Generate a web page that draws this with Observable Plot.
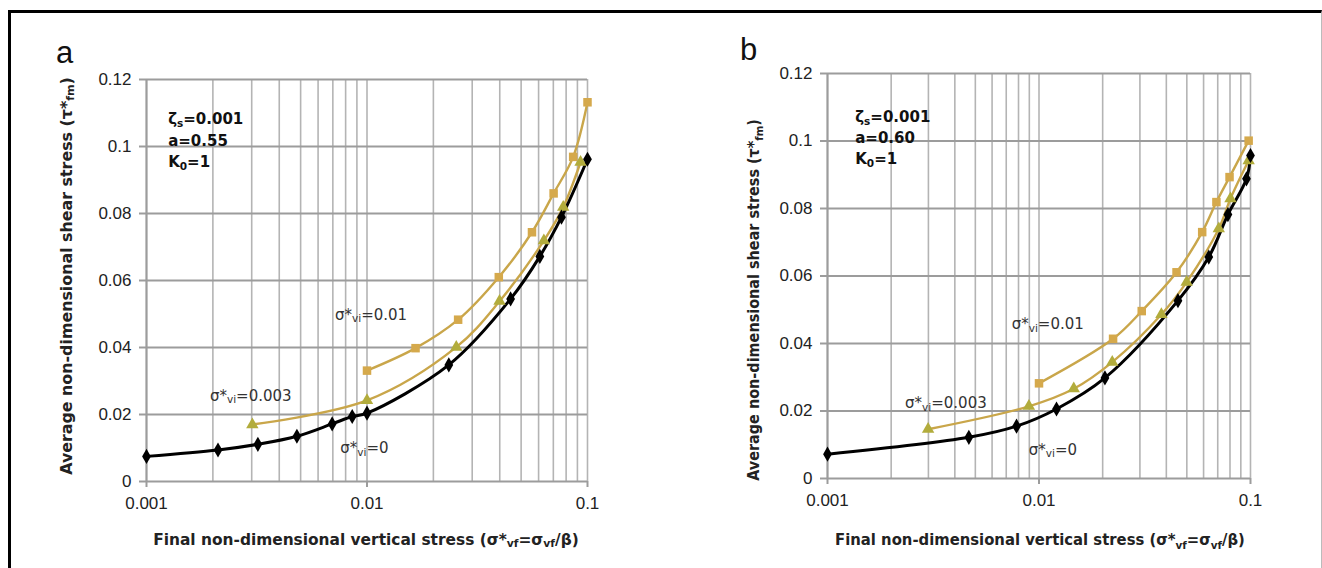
<!DOCTYPE html>
<html><head><meta charset="utf-8">
<script src="https://cdn.jsdelivr.net/npm/d3@7"></script>
<script src="https://cdn.jsdelivr.net/npm/@observablehq/plot@0.6"></script>
<style>
body{margin:0;background:#fff;}
#wrap{position:relative;width:1322px;height:568px;overflow:hidden;font-family:"Liberation Sans",Arial,sans-serif;background:#fff;}
#frame{position:absolute;left:8px;top:10px;width:1310px;height:600px;border-top:3px solid #000;border-left:3px solid #000;border-right:1px solid #bbb;}
.panel{position:absolute;top:0;}
.letter{position:absolute;font-size:31px;color:#111;line-height:34px;}
</style></head>
<body><div id="wrap"><div id="frame"></div>
<div id="pa" class="panel" style="left:0"></div>
<div id="pb" class="panel" style="left:661px"></div>
<div class="letter" style="left:56px;top:36px">a</div>
<div class="letter" style="left:740px;top:33px">b</div>
</div>
<script>
// ---- axis ticks ----
const xTicks = [0.001, 0.01, 0.1];
const xTickLabels = ["0.001", "0.01", "0.1"];
const xGrid = [0.001, 0.002, 0.003, 0.004, 0.005, 0.006, 0.007, 0.008, 0.009,
               0.01, 0.02, 0.03, 0.04, 0.05, 0.06, 0.07, 0.08, 0.09, 0.1];
const yTicks = [0, 0.02, 0.04, 0.06, 0.08, 0.1, 0.12];
const yTickLabels = ["0", "0.02", "0.04", "0.06", "0.08", "0.1", "0.12"];

// ---- panel a data ----
const aBlackX = [0.001, 0.00211, 0.0032, 0.00481, 0.00695, 0.00857, 0.01, 0.0235, 0.0448, 0.0608, 0.0762, 0.1];
const aBlackY = [0.0075, 0.0094, 0.0111, 0.0135, 0.0172, 0.0194, 0.0204, 0.0348, 0.0545, 0.0672, 0.0789, 0.0962];
const aTriX = [0.00302, 0.01, 0.0254, 0.0399, 0.0634, 0.0776, 0.093];
const aTriY = [0.0170, 0.0242, 0.0401, 0.0538, 0.0719, 0.0819, 0.0953];
const aSqX = [0.01, 0.0166, 0.0259, 0.0396, 0.056, 0.0702, 0.0861, 0.1];
const aSqY = [0.0331, 0.0398, 0.0483, 0.0610, 0.0744, 0.0860, 0.0969, 0.1132];

// ---- panel b data ----
const bBlackX = [0.001, 0.00466, 0.00783, 0.0121, 0.0205, 0.0454, 0.0635, 0.0782, 0.0957, 0.1];
const bBlackY = [0.0072, 0.0122, 0.0155, 0.0206, 0.0298, 0.0527, 0.0656, 0.0782, 0.0888, 0.0957];
const bTriX = [0.00299, 0.00896, 0.0146, 0.0222, 0.0379, 0.0499, 0.0708, 0.0804, 0.098];
const bTriY = [0.0146, 0.0214, 0.0266, 0.0345, 0.0486, 0.0582, 0.0740, 0.0829, 0.0942];
const bSqX = [0.01, 0.0224, 0.0306, 0.0447, 0.0591, 0.069, 0.0796, 0.098];
const bSqY = [0.0282, 0.0414, 0.0496, 0.0611, 0.0730, 0.0819, 0.0893, 0.1001];

const seriesValues = ["0", "0.003", "0.01"];

const GOLD = "#c9a64a", GOLD_SQ = "#d5a94c", OLIVE = "#b2ac3c";
const FONT = "'Liberation Sans', Arial, sans-serif";
const BFONT = "'DejaVu Sans', 'Liberation Sans', Arial, sans-serif";

function rows(xs, ys) { return xs.map((x, i) => ({x, y: ys[i]})); }

function rich(g, x, y, parts, opts = {}) {
  const fs = opts.fontSize || 14;
  const t = g.append("text").attr("x", x).attr("y", y)
    .attr("font-size", fs).attr("font-family", opts.family || FONT)
    .attr("font-weight", opts.bold ? "bold" : "normal")
    .attr("fill", opts.fill || "#222")
    .attr("text-anchor", opts.anchor || "start")
    .attr("dominant-baseline", "middle");
  if (opts.rotate) t.attr("transform", `rotate(-90 ${x} ${y})`);
  let shift = 0;
  for (const p of parts) {
    const [s, kind] = Array.isArray(p) ? p : [p, null];
    const ts = t.append("tspan").text(s);
    const target = kind === "sub" ? fs * 0.3 : 0;
    if (target !== shift) { ts.attr("dy", target - shift); shift = target; }
    if (kind) ts.attr("font-size", fs * 0.7);
  }
  if (opts.length) {
    const w = t.node().getComputedTextLength();
    const k = opts.length / w;
    const base = opts.rotate ? `rotate(-90 ${x} ${y}) ` : "";
    t.attr("transform", base + `translate(${x} ${y}) scale(${k} 1) translate(${-x} ${-y})`);
  }
  return t;
}

function makePanel(el, cfg) {
  const black = rows(cfg.blackX, cfg.blackY);
  const tri = rows(cfg.triX, cfg.triY);
  const sq = rows(cfg.sqX, cfg.sqY);
  const plot = Plot.plot({
    width: cfg.width, height: 568,
    marginLeft: cfg.ml, marginRight: cfg.mr, marginTop: cfg.mt, marginBottom: cfg.mb,
    x: {type: "log", domain: [0.001, 0.1]},
    y: {domain: [0, 0.12]},
    style: {fontFamily: FONT, fontSize: "17px", color: "#222", background: "transparent", overflow: "visible"},
    marks: [
      Plot.ruleX(xGrid, {stroke: "#b4b4b4", strokeWidth: 1.6}),
      Plot.ruleY(yTicks, {stroke: "#9c9c9c", strokeWidth: 2}),
      Plot.ruleX([0.001], {stroke: "#9c9c9c", strokeWidth: 2}),
      Plot.axisY(yTicks, {tickSize: 7, tickPadding: 8, stroke: "#9c9c9c", strokeWidth: 2,
        tickFormat: d => yTickLabels[yTicks.indexOf(d)], label: null}),
      Plot.axisX(xTicks, {tickSize: 6, tickPadding: 9, stroke: "#9c9c9c", strokeWidth: 2,
        tickFormat: d => xTickLabels[xTicks.indexOf(d)], label: null}),
      Plot.line(sq, {x: "x", y: "y", stroke: GOLD, strokeWidth: 2.4, curve: "catmull-rom"}),
      Plot.line(tri, {x: "x", y: "y", stroke: GOLD, strokeWidth: 2.4, curve: "catmull-rom"}),
      Plot.line(black, {x: "x", y: "y", stroke: "#000", strokeWidth: 3, curve: "catmull-rom"}),
      Plot.dot(sq, {x: "x", y: "y", symbol: "square", fill: GOLD_SQ, r: 4.8}),
      Plot.dot(tri, {x: "x", y: "y", symbol: "triangle", fill: OLIVE, r: 4.6}),
      Plot.dot(black, {x: "x", y: "y", symbol: "diamond", fill: "#000", r: 4.6})
    ]
  });
  el.appendChild(plot);
  const sx = plot.scale("x"), sy = plot.scale("y");
  const g = d3.select(plot).append("g");
  // parameter block
  const p = cfg.params;
  const pOpt = {bold: true, fontSize: 15, fill: "#111", family: BFONT};
  rich(g, sx.apply(p.x), sy.apply(p.y[0]), ["ζ", ["s", "sub"], "=0.001"], pOpt);
  rich(g, sx.apply(p.x), sy.apply(p.y[1]), [cfg.aText], pOpt);
  rich(g, sx.apply(p.x), sy.apply(p.y[2]), ["K", ["0", "sub"], "=1"], pOpt);
  // curve labels
  cfg.labels.forEach((L, i) => {
    rich(g, sx.apply(L[0]), sy.apply(L[1]), ["σ*", ["vi", "sub"], "=" + seriesValues[i]],
         {fontSize: 15, fill: "#333", family: BFONT});
  });
  // axis titles
  rich(g, cfg.ylabX, cfg.ylabY, ["Average non-dimensional shear stress (τ*", ["fm", "sub"], ")"],
       {bold: true, fontSize: 15, rotate: true, anchor: "middle", fill: "#222", family: BFONT, length: cfg.ylabLen});
  rich(g, cfg.xlabX, cfg.xlabY, ["Final non-dimensional vertical stress (σ*", ["vf", "sub"], "=σ", ["vf", "sub"], "/β)"],
       {bold: true, fontSize: 15, anchor: "middle", fill: "#222", family: BFONT, length: cfg.xlabLen});
}

makePanel(document.getElementById("pa"), {
  width: 660, ml: 146, mr: 73, mt: 79, mb: 87,
  blackX: aBlackX, blackY: aBlackY, triX: aTriX, triY: aTriY, sqX: aSqX, sqY: aSqY,
  params: {x: 0.00126, y: [0.108, 0.1015, 0.0952]}, aText: "a=0.55",
  labels: [[0.0076, 0.0098], [0.00195, 0.0255], [0.0072, 0.0496]],
  ylabX: 67, ylabY: 276, ylabLen: 398, xlabX: 366, xlabY: 540, xlabLen: 426
});
makePanel(document.getElementById("pb"), {
  width: 661, ml: 166, mr: 72, mt: 73, mb: 90,
  blackX: bBlackX, blackY: bBlackY, triX: bTriX, triY: bTriY, sqX: bSqX, sqY: bSqY,
  params: {x: 0.00136, y: [0.1069, 0.1007, 0.0944]}, aText: "a=0.60",
  labels: [[0.0090, 0.0083], [0.00234, 0.0222], [0.00747, 0.0456]],
  ylabX: 94, ylabY: 300, ylabLen: 362, xlabX: 379, xlabY: 541, xlabLen: 410
});
</script>
</body></html>
